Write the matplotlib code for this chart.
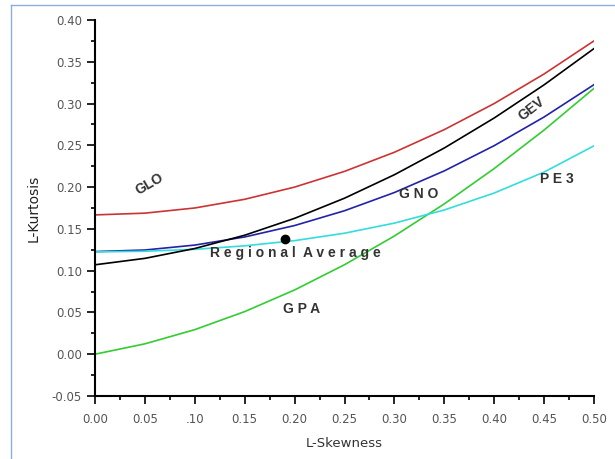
import numpy as np
import matplotlib.pyplot as plt
from matplotlib.lines import Line2D

# L-skewness grid and theoretical L-kurtosis of each distribution
tau3 = [0.00, 0.05, 0.10, 0.15, 0.20, 0.25, 0.30, 0.35, 0.40, 0.45, 0.50]
glo = [0.1667, 0.1688, 0.1750, 0.1854, 0.2000, 0.2188, 0.2417, 0.2688, 0.3000, 0.3354, 0.3750]
gev = [0.1070, 0.1147, 0.1265, 0.1424, 0.1626, 0.1867, 0.2148, 0.2468, 0.2827, 0.3224, 0.3658]
gno = [0.1228, 0.1247, 0.1306, 0.1403, 0.1540, 0.1717, 0.1935, 0.2194, 0.2496, 0.2839, 0.3226]
pe3 = [0.1224, 0.1232, 0.1255, 0.1297, 0.1359, 0.1448, 0.1569, 0.1726, 0.1929, 0.2180, 0.2494]
gpa = [0.0000, 0.0124, 0.0294, 0.0510, 0.0769, 0.1071, 0.1415, 0.1799, 0.2222, 0.2683, 0.3182]

# regional average point
reg_t3 = 0.19
reg_t4 = 0.138

xticks = [0.00, 0.05, 0.10, 0.15, 0.20, 0.25, 0.30, 0.35, 0.40, 0.45, 0.50]
xticklabels = ["0.00", "0.05", ".10", "0.15", "0.20", "0.25", "0.30", "0.35", "0.40", "0.45", "0.50"]
yticks = [-0.05, 0.00, 0.05, 0.10, 0.15, 0.20, 0.25, 0.30, 0.35, 0.40]
yticklabels = ["-0.05", "0.00", "0.05", "0.10", "0.15", "0.20", "0.25", "0.30", "0.35", "0.40"]

fig = plt.figure(figsize=(6.15, 4.59), dpi=100)
ax = fig.add_axes([0.1545, 0.1373, 0.8114, 0.8192])

ax.plot(tau3, gpa, color="#33cc33", lw=1.2)
ax.plot(tau3, gno, color="#2222aa", lw=1.2)
ax.plot(tau3, pe3, color="#33dddd", lw=1.2)
ax.plot(tau3, gev, color="black", lw=1.2)
ax.plot(tau3, glo, color="#cc3333", lw=1.2)
ax.plot([reg_t3], [reg_t4], "o", color="black", ms=6)

lbl = dict(fontsize=10, fontweight="bold", color="#333333", ha="center", va="center",
           family="Liberation Sans")
ax.text(0.055, 0.204, "GLO", rotation=30, **lbl)
ax.text(0.437, 0.294, "GEV", rotation=38, **lbl)
ax.text(0.324, 0.192, "G N O", **lbl)
ax.text(0.463, 0.210, "P E 3", **lbl)
ax.text(0.201, 0.121, "R e g i o n a l  A v e r a g e", **lbl)
ax.text(0.207, 0.054, "G P A", **lbl)

ax.set_xlim(0, 0.5)
ax.set_ylim(-0.05, 0.40)
ax.set_xticks(xticks)
ax.set_xticklabels(xticklabels)
ax.set_yticks(yticks)
ax.set_yticklabels(yticklabels)
ax.set_xticks(np.arange(0.025, 0.5, 0.05), minor=True)
ax.set_yticks(np.arange(-0.025, 0.4, 0.05), minor=True)
ax.tick_params(which="major", length=6, width=1.2, labelsize=8.5, labelcolor="#555555")
ax.tick_params(which="minor", length=3, width=1.2)
ax.tick_params(axis="x", pad=6)

for s in ["top", "right"]:
    ax.spines[s].set_visible(False)
for s in ["left", "bottom"]:
    ax.spines[s].set_linewidth(1.5)

ax.set_xlabel("L-Skewness", fontsize=9.5, color="#333333", labelpad=8)
ax.set_ylabel("L-Kurtosis", fontsize=10, color="#222222", labelpad=8)

# thin blue frame around the figure
fig.add_artist(Line2D([11 / 615, 11 / 615], [0, 1 - 5 / 459], color="#8aaee0", lw=1))
fig.add_artist(Line2D([11 / 615, 1], [1 - 5 / 459, 1 - 5 / 459], color="#8aaee0", lw=1))

fig.savefig("out.png", dpi=100)
